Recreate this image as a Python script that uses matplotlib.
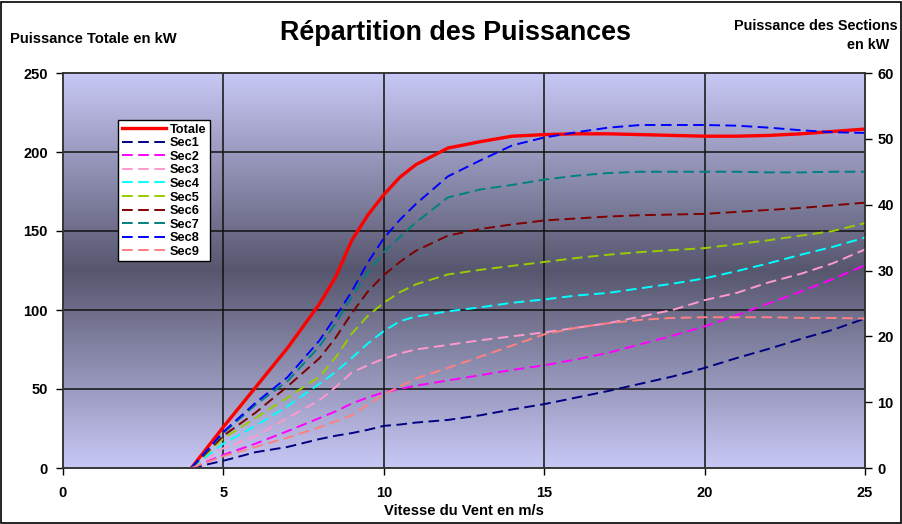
import numpy as np
import matplotlib
matplotlib.use("Agg")
import matplotlib.pyplot as plt
from matplotlib.patches import Rectangle

plt.rcParams['font.family'] = ['Liberation Sans', 'DejaVu Sans']
plt.rcParams['font.weight'] = 'bold'

# ---- data ----
vitesse = [4, 5, 6, 7, 8, 8.5, 9, 9.5, 10, 10.5, 11, 12, 13, 14, 15, 16, 17, 18, 19, 20, 21, 22, 23, 24, 25]
totale = [0, 26, 51, 76, 104, 121, 144, 160, 173, 184, 192, 202.5, 206.5, 210, 211, 211.5, 211.5, 211, 210.5, 210, 210, 210.5, 211.5, 213, 214.5]
sec1 = [0, 1.1, 2.4, 3.2, 4.4, 4.9, 5.3, 5.8, 6.4, 6.6, 6.9, 7.3, 8.0, 8.9, 9.7, 10.7, 11.7, 12.8, 13.9, 15.2, 16.7, 18.1, 19.6, 21.0, 22.7]
sec2 = [0, 2.0, 3.7, 5.6, 7.6, 8.6, 9.8, 10.7, 11.5, 12.0, 12.5, 13.3, 14.1, 14.9, 15.6, 16.5, 17.5, 18.8, 20.1, 21.5, 23.2, 25.0, 26.8, 28.7, 30.8]
sec3 = [0, 3.0, 4.8, 7.6, 10.3, 12.3, 14.5, 15.6, 16.6, 17.4, 18.0, 18.7, 19.4, 20.0, 20.6, 21.3, 22.0, 23.0, 24.0, 25.5, 26.6, 28.2, 29.5, 31.1, 33.2]
sec4 = [0, 3.7, 6.4, 9.4, 12.8, 14.6, 16.7, 18.9, 20.8, 22.3, 23.0, 23.8, 24.4, 25.1, 25.6, 26.2, 26.6, 27.3, 28.0, 28.8, 29.9, 31.1, 32.4, 33.6, 35.0]
sec5 = [0, 4.5, 7.6, 10.7, 13.9, 16.8, 20.4, 23.1, 25.1, 26.7, 27.9, 29.4, 30.1, 30.7, 31.3, 31.9, 32.4, 32.8, 33.1, 33.4, 34.0, 34.6, 35.3, 36.0, 37.2]
sec6 = [0, 4.9, 8.4, 12.4, 16.7, 19.8, 23.5, 26.8, 29.3, 31.3, 33.0, 35.3, 36.3, 37.0, 37.6, 37.9, 38.2, 38.4, 38.5, 38.6, 38.9, 39.2, 39.5, 39.9, 40.3]
sec7 = [0, 5.3, 9.6, 13.2, 18.5, 22.0, 26.0, 29.7, 32.8, 35.1, 37.3, 41.1, 42.3, 43.0, 43.8, 44.4, 44.8, 45.0, 45.0, 45.0, 45.0, 44.9, 44.9, 45.0, 45.0]
sec8 = [0, 5.5, 9.9, 13.8, 19.4, 23.0, 26.8, 31.2, 34.9, 37.7, 40.1, 44.3, 46.7, 49.0, 50.2, 51.0, 51.7, 52.1, 52.1, 52.1, 52.0, 51.7, 51.3, 51.0, 50.9]
sec9 = [0, 1.8, 3.2, 4.6, 6.2, 7.1, 8.0, 9.6, 11.2, 12.4, 13.6, 15.2, 16.9, 18.6, 20.3, 21.3, 22.0, 22.5, 22.8, 22.9, 22.9, 22.9, 22.8, 22.8, 22.7]

sections = [sec1, sec2, sec3, sec4, sec5, sec6, sec7, sec8, sec9]
sec_labels = ['Sec1', 'Sec2', 'Sec3', 'Sec4', 'Sec5', 'Sec6', 'Sec7', 'Sec8', 'Sec9']
sec_colors = ['#000080', '#FF00FF', '#FF99CC', '#00FFFF', '#99CC00', '#800000', '#008080', '#0000FF', '#FF8080']

x_ticks = [0, 5, 10, 15, 20, 25]
y_ticks_left = [0, 50, 100, 150, 200, 250]
y_ticks_right = [0, 10, 20, 30, 40, 50, 60]

# ---- figure ----
fig = plt.figure(figsize=(9.03, 5.24), dpi=100)
fig.patches.append(Rectangle((0.001, 0.002), 0.997, 0.995, transform=fig.transFigure,
                             fill=False, edgecolor='black', linewidth=1.2))

ax = fig.add_axes([63/903, 56/524, 802/903, 395/524])
ax.set_xlim(0, 25)
ax.set_ylim(0, 250)

# gradient background
light = np.array([200, 200, 246]) / 255
dark = np.array([86, 86, 110]) / 255
t = np.linspace(0, 1, 400)
w = 1 - np.abs(2 * t - 1)
grad = light[None, :] + (dark - light)[None, :] * w[:, None]
img = np.repeat(grad[:, None, :], 2, axis=1)
ax.imshow(img, extent=[0, 25, 0, 250], aspect='auto', origin='lower', zorder=0)

for xv in x_ticks[1:-1]:
    ax.axvline(xv, color='#111111', lw=1.1, zorder=1)
for yv in y_ticks_left[1:-1]:
    ax.axhline(yv, color='#111111', lw=1.1, zorder=1)

l_tot, = ax.plot(vitesse, totale, color='#FF0000', lw=2.4, zorder=3, label='Totale')

ax.set_xticks(x_ticks)
ax.set_yticks(y_ticks_left)
ax.tick_params(axis='both', direction='out', length=5, width=1, labelsize=10.5)
for lab in ax.get_xticklabels() + ax.get_yticklabels():
    lab.set_fontweight('bold')
ax.tick_params(axis='y', pad=6)
ax.tick_params(axis='x', pad=8)

ax2 = ax.twinx()
ax2.set_ylim(0, 60)
ax2.set_yticks(y_ticks_right)
ax2.tick_params(axis='y', direction='out', length=5, width=1, labelsize=10.5, pad=4)
for lab in ax2.get_yticklabels():
    lab.set_fontweight('bold')
ax2.patch.set_visible(False)

handles = [l_tot]
for vals, lab, col in zip(sections, sec_labels, sec_colors):
    h, = ax2.plot(vitesse, vals, color=col, lw=1.4, dashes=(5.5, 2.8), label=lab, zorder=2)
    handles.append(h)

for a in (ax, ax2):
    for s in a.spines.values():
        s.set_color('#333333')
        s.set_linewidth(1.1)

leg = ax2.legend(handles=handles, loc='upper left', bbox_to_anchor=(0.069, 0.881),
                 borderaxespad=0, fontsize=9.2, frameon=True, fancybox=False,
                 edgecolor='black', facecolor='white', framealpha=1,
                 handlelength=3.4, handletextpad=0.3, labelspacing=0.12,
                 borderpad=0.3)
leg.get_frame().set_linewidth(1.0)
for txt in leg.get_texts():
    txt.set_fontweight('bold')

fig.text(456/903, 1 - 33/524, 'Répartition des Puissances', ha='center', va='center',
         fontsize=19.4, fontweight='bold')
fig.text(10/903, 1 - 39/524, 'Puissance Totale en kW', ha='left', va='center',
         fontsize=10.6, fontweight='bold')
fig.text(816/903, 1 - 26/524, 'Puissance des Sections', ha='center', va='center',
         fontsize=10.4, fontweight='bold')
fig.text(868/903, 1 - 45/524, 'en kW', ha='center', va='center',
         fontsize=10.4, fontweight='bold')
fig.text(464/903, 1 - 511/524, 'Vitesse du Vent en m/s', ha='center', va='center',
         fontsize=10.6, fontweight='bold')

fig.savefig('out.png', dpi=100)
